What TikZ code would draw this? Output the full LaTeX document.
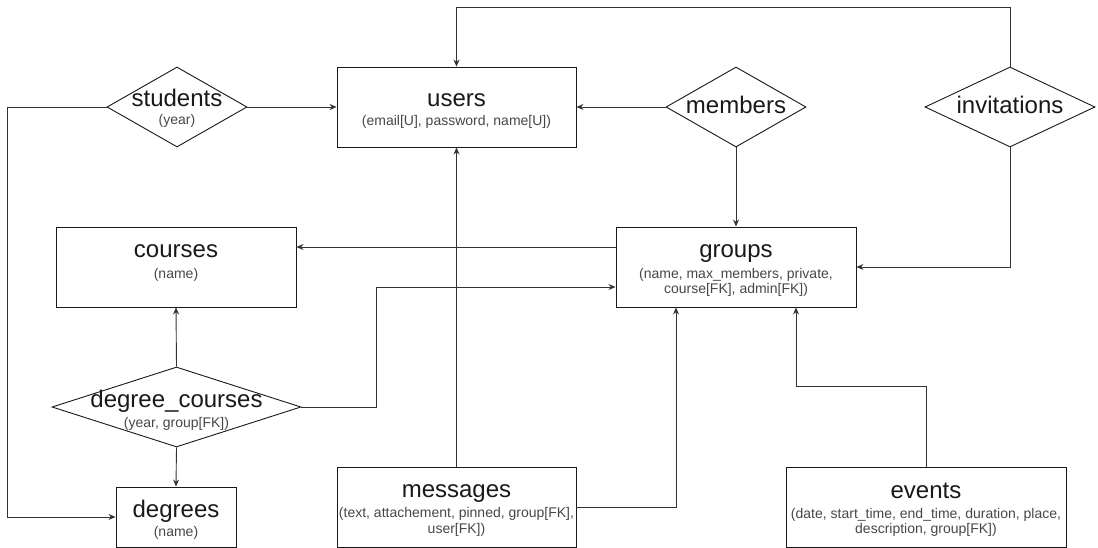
\documentclass[tikz,border=0pt]{standalone}
\usepackage{fontspec}
\setmainfont{Liberation Sans}
\usetikzlibrary{shapes.geometric,arrows.meta,calc}
\begin{document}
\begin{tikzpicture}[x=1pt,y=-1pt,
  ent/.style={draw=black!90, line width=0.9pt, fill=white, inner sep=0pt},
  rel/.style={diamond, draw=black!90, line width=0.9pt, fill=white, inner sep=0pt},
  ttl/.style={anchor=base, inner sep=0pt, text=black!90, font=\fontsize{24}{26}\selectfont},
  subt/.style={anchor=base, inner sep=0pt, text=black!72, font=\fontsize{14}{15}\selectfont},
  conn/.style={draw=black!80, line width=0.9pt, -{Stealth[length=7pt,width=6pt]}}]
\useasboundingbox[fill=white] (0,0) rectangle (1098,548);
% entities
\node[ent, minimum width=239pt, minimum height=80pt] (users) at (456.5,107) {};
\node[ttl] (usersT) at (456.5,107) {users};
\node[subt] (usersS) at (456.5,126) {(email[U], password, name[U])};
\node[ent, minimum width=240pt, minimum height=80pt] (courses) at (176,267) {};
\node[ttl] (coursesT) at (176,258) {courses};
\node[subt] (coursesS) at (176,279) {(name)};
\node[ent, minimum width=240pt, minimum height=80pt] (groups) at (736,267) {};
\node[ttl] (groupsT) at (736,258) {groups};
\node[subt] (groupsS1) at (736,278) {(name, max\_members, private,};
\node[subt] (groupsS2) at (736,293) {course[FK], admin[FK])};
\node[ent, minimum width=120pt, minimum height=60pt] (degrees) at (176,517) {};
\node[ttl] (degreesT) at (176,517) {degrees};
\node[subt] (degreesS) at (176,536) {(name)};
\node[ent, minimum width=239pt, minimum height=80pt] (messages) at (456.5,507) {};
\node[ttl] (messagesT) at (456.5,497) {messages};
\node[subt] (messagesS1) at (456.5,517) {(text, attachement, pinned, group[FK],};
\node[subt] (messagesS2) at (456.5,533) {user[FK])};
\node[ent, minimum width=280pt, minimum height=80pt] (events) at (926,507) {};
\node[ttl] (eventsT) at (926,498) {events};
\node[subt] (eventsS1) at (926,518) {(date, start\_time, end\_time, duration, place,};
\node[subt] (eventsS2) at (926,533) {description, group[FK])};
% relationships
\node[rel, minimum width=140pt, minimum height=80pt] (students) at (177,107) {};
\node[ttl] (studentsT) at (177,107) {students};
\node[subt] (studentsS) at (177,125) {(year)};
\node[rel, minimum width=140pt, minimum height=80pt] (members) at (736,107) {};
\node[ttl] (membersT) at (736,114) {members};
\node[rel, minimum width=170pt, minimum height=80pt] (invitations) at (1010,107) {};
\node[ttl] (invitationsT) at (1010,114) {invitations};
\node[rel, minimum width=249pt, minimum height=80pt] (dc) at (176.5,407) {};
\node[ttl] (dcT) at (176.5,407) {degree\_courses};
\node[subt] (dcS) at (176.5,427) {(year, group[FK])};
% connectors
\draw[conn] (students.east) -- (users.west);
\draw[conn] (students.west) -- ++(-99,0) |- (degrees.west);
\draw[conn] (members.west) -- (users.east);
\draw[conn] (members.south) -- (groups.north);
\draw[conn] (invitations.north) -- ++(0,-59) -| (users.north);
\draw[conn] (invitations.south) |- (groups.east);
\draw[conn] ($(groups.west)+(0,-20)$) -- (courses.east |- {$(groups.west)+(0,-20)$});
\draw[conn] (dc.north) -- (courses.south);
\draw[conn] (dc.south) -- (degrees.north);
\draw[conn] (dc.east) -- ++(75,0) |- ($(groups.west)+(0,20)$);
\draw[conn] (messages.north) -- (users.south);
\draw[conn] (messages.east) -| ($(groups.south)+(-60,0)$);
\draw[conn] (events.north) -- ++(0,-80) -| ($(groups.south)+(60,0)$);
\end{tikzpicture}
\end{document}
